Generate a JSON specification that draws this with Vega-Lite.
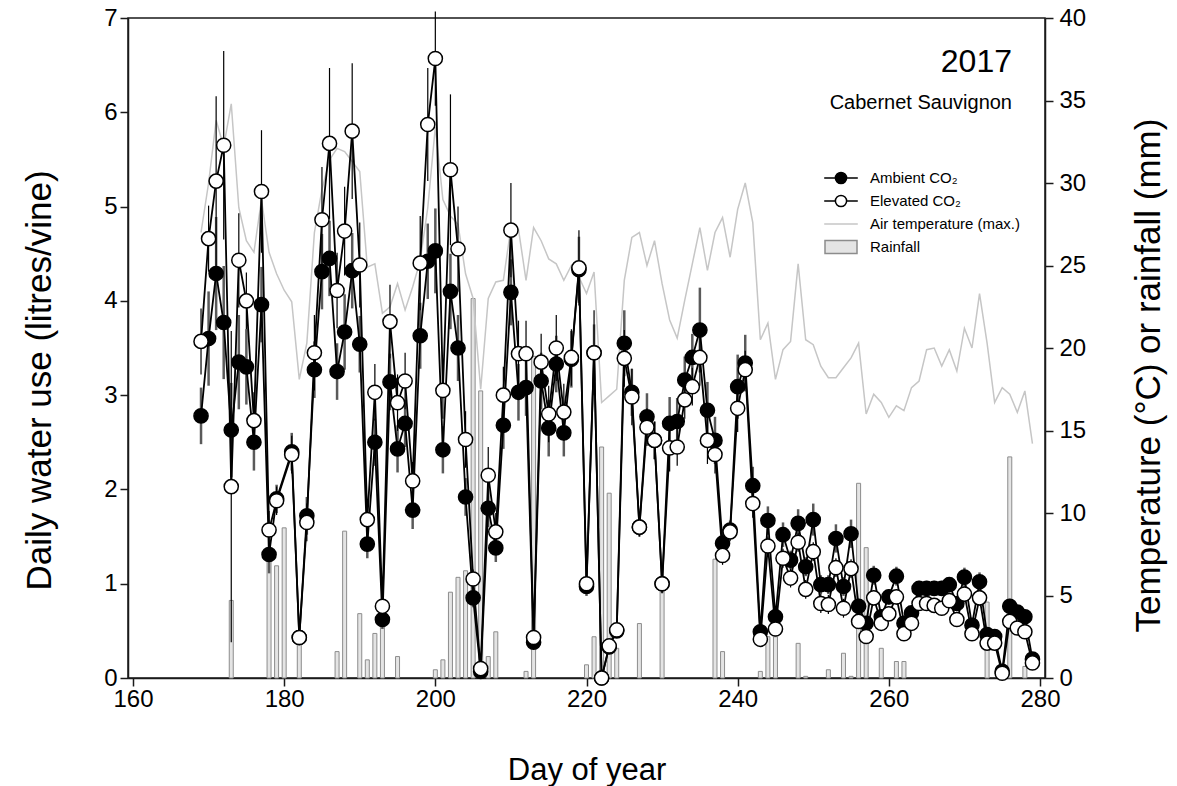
{
  "$schema": "https://vega.github.io/schema/vega-lite/v6.json",
  "width": 917,
  "height": 660,
  "autosize": {"type": "none"},
  "padding": {"left": 128, "top": 18, "right": 132, "bottom": 108},
  "background": "white",
  "title": {
    "text": "2017",
    "subtitle": "Cabernet Sauvignon",
    "anchor": "end",
    "frame": "group",
    "orient": "top",
    "font": "Liberation Sans",
    "subtitleFont": "Liberation Sans",
    "fontSize": 32,
    "subtitleFontSize": 20,
    "fontWeight": "normal",
    "color": "#000",
    "subtitleColor": "#000",
    "subtitlePadding": 14,
    "dx": -33,
    "offset": -108
  },
  "data": {
    "values": [
      {"d":169,"a":2.78,"e":3.57,"t":27.0,"as":0.3,"es":0.35},
      {"d":170,"a":3.6,"e":4.66,"t":30.0,"as":0.5,"es":0.35},
      {"d":171,"a":4.29,"e":5.27,"t":33.8,"as":0.6,"es":0.9},
      {"d":172,"a":3.77,"e":5.65,"t":32.2,"as":0.6,"es":1.0},
      {"d":173,"a":2.63,"e":2.03,"t":34.8,"r":4.7,"as":0.5,"es":1.65},
      {"d":174,"a":3.35,"e":4.43,"t":28.5,"as":0.5,"es":0.5},
      {"d":175,"a":3.3,"e":4.0,"t":26.5,"as":0.4,"es":0.3},
      {"d":176,"a":2.5,"e":2.73,"t":25.8,"as":0.3,"es":0.3},
      {"d":177,"a":3.96,"e":5.16,"t":29.0,"as":0.4,"es":0.65},
      {"d":178,"a":1.31,"e":1.57,"t":25.8,"r":7.1,"as":0.2,"es":0.2},
      {"d":179,"a":1.9,"e":1.88,"t":24.5,"r":6.8,"as":0.15,"es":0.15},
      {"d":180,"a":null,"e":null,"t":23.5,"r":9.1},
      {"d":181,"a":2.4,"e":2.37,"t":22.8,"as":0.2,"es":0.2},
      {"d":182,"a":0.43,"e":0.43,"t":18.1,"r":2.0,"as":0.05,"es":0.05},
      {"d":183,"a":1.72,"e":1.65,"t":20.3,"as":0.2,"es":0.2},
      {"d":184,"a":3.27,"e":3.45,"t":27.0,"as":0.3,"es":0.4},
      {"d":185,"a":4.31,"e":4.86,"t":29.6,"as":0.4,"es":0.56},
      {"d":186,"a":4.45,"e":5.67,"t":31.4,"as":0.4,"es":0.8},
      {"d":187,"a":3.25,"e":4.11,"t":32.1,"r":1.6,"as":0.3,"es":0.4},
      {"d":188,"a":3.67,"e":4.74,"t":31.9,"r":8.9,"as":0.4,"es":0.47},
      {"d":189,"a":4.32,"e":5.8,"t":31.3,"as":0.4,"es":0.72},
      {"d":190,"a":3.54,"e":4.38,"t":30.7,"r":3.9,"as":0.3,"es":0.45},
      {"d":191,"a":1.42,"e":1.68,"t":24.9,"r":1.1,"as":0.15,"es":0.2},
      {"d":192,"a":2.5,"e":3.03,"t":25.1,"r":2.7,"as":0.25,"es":0.3},
      {"d":193,"a":0.62,"e":0.76,"t":22.1,"r":3.8,"as":0.1,"es":0.1},
      {"d":194,"a":3.14,"e":3.78,"t":22.5,"as":0.3,"es":0.39},
      {"d":195,"a":2.43,"e":2.92,"t":23.9,"r":1.3,"as":0.25,"es":0.3},
      {"d":196,"a":2.7,"e":3.15,"t":22.3,"as":0.25,"es":0.3},
      {"d":197,"a":1.78,"e":2.09,"t":23.7,"as":0.2,"es":0.2},
      {"d":198,"a":3.63,"e":4.4,"t":25.3,"as":0.35,"es":0.5},
      {"d":199,"a":4.42,"e":5.87,"t":28.5,"as":0.4,"es":0.6},
      {"d":200,"a":4.53,"e":6.57,"t":33.4,"r":0.5,"as":0.45,"es":0.5},
      {"d":201,"a":2.42,"e":3.05,"t":29.0,"r":1.1,"as":0.25,"es":0.3},
      {"d":202,"a":4.1,"e":5.39,"t":28.0,"r":5.2,"as":0.4,"es":0.8},
      {"d":203,"a":3.5,"e":4.55,"t":27.5,"r":6.1,"as":0.35,"es":0.45},
      {"d":204,"a":1.92,"e":2.53,"t":24.5,"r":6.5,"as":0.2,"es":0.3},
      {"d":205,"a":0.85,"e":1.05,"t":23.0,"r":23.0,"as":0.1,"es":0.1},
      {"d":206,"a":0.07,"e":0.1,"t":17.5,"r":17.4,"as":0.03,"es":0.03},
      {"d":207,"a":1.8,"e":2.15,"t":23.0,"r":1.3,"as":0.2,"es":0.3},
      {"d":208,"a":1.38,"e":1.55,"t":24.0,"r":2.8,"as":0.15,"es":0.2},
      {"d":209,"a":2.68,"e":3.0,"t":24.1,"as":0.25,"es":0.3},
      {"d":210,"a":4.09,"e":4.75,"t":27.3,"as":0.35,"es":0.5},
      {"d":211,"a":3.03,"e":3.44,"t":27.2,"as":0.3,"es":0.35},
      {"d":212,"a":3.08,"e":3.44,"t":24.1,"r":0.4,"as":0.3,"es":0.35},
      {"d":213,"a":0.38,"e":0.43,"t":27.3,"r":19.5,"as":0.05,"es":0.05},
      {"d":214,"a":3.15,"e":3.35,"t":26.5,"as":0.3,"es":0.3},
      {"d":215,"a":2.65,"e":2.8,"t":25.4,"as":0.3,"es":0.3},
      {"d":216,"a":3.33,"e":3.5,"t":25.1,"as":0.3,"es":0.35},
      {"d":217,"a":2.6,"e":2.82,"t":24.1,"as":0.25,"es":0.3},
      {"d":218,"a":3.38,"e":3.4,"t":25.0,"as":0.3,"es":0.3},
      {"d":219,"a":4.33,"e":4.35,"t":24.3,"as":0.35,"es":0.4},
      {"d":220,"a":0.97,"e":1.0,"t":23.3,"r":0.8,"as":0.1,"es":0.1},
      {"d":221,"a":3.45,"e":3.45,"t":24.6,"r":2.5,"as":0.3,"es":0.45},
      {"d":222,"a":0.0,"e":0.0,"t":16.7,"r":14.0,"as":0,"es":0},
      {"d":223,"a":0.33,"e":0.34,"t":17.1,"r":11.2,"as":0.05,"es":0.05},
      {"d":224,"a":0.5,"e":0.51,"t":17.5,"r":1.8,"as":0.05,"es":0.05},
      {"d":225,"a":3.55,"e":3.39,"t":24.1,"as":0.35,"es":0.3},
      {"d":226,"a":3.03,"e":2.98,"t":26.7,"as":0.25,"es":0.3},
      {"d":227,"a":1.6,"e":1.6,"t":27.0,"r":3.3,"as":0.1,"es":0.1},
      {"d":228,"a":2.77,"e":2.66,"t":25.0,"as":0.25,"es":0.2},
      {"d":229,"a":2.52,"e":2.52,"t":26.5,"as":0.2,"es":0.2},
      {"d":230,"a":1.0,"e":1.0,"t":23.9,"r":5.5,"as":0.1,"es":0.1},
      {"d":231,"a":2.7,"e":2.44,"t":21.7,"as":0.28,"es":0.25},
      {"d":232,"a":2.72,"e":2.45,"t":20.6,"as":0.25,"es":0.2},
      {"d":233,"a":3.16,"e":2.95,"t":22.9,"as":0.25,"es":0.2},
      {"d":234,"a":3.4,"e":3.09,"t":25.1,"as":0.25,"es":0.2},
      {"d":235,"a":3.69,"e":3.4,"t":27.3,"as":0.45,"es":0.3},
      {"d":236,"a":2.84,"e":2.52,"t":24.7,"as":0.3,"es":0.25},
      {"d":237,"a":2.52,"e":2.37,"t":27.0,"r":7.2,"as":0.25,"es":0.2},
      {"d":238,"a":1.43,"e":1.3,"t":27.9,"r":1.6,"as":0.15,"es":0.1},
      {"d":239,"a":1.57,"e":1.55,"t":25.5,"as":0.1,"es":0.1},
      {"d":240,"a":3.09,"e":2.86,"t":28.4,"as":0.34,"es":0.25},
      {"d":241,"a":3.34,"e":3.27,"t":30.0,"as":0.3,"es":0.2},
      {"d":242,"a":2.04,"e":1.85,"t":27.6,"as":0.2,"es":0.15},
      {"d":243,"a":0.49,"e":0.41,"t":20.5,"r":0.4,"as":0.05,"es":0.05},
      {"d":244,"a":1.67,"e":1.4,"t":21.5,"r":2.5,"as":0.15,"es":0.1},
      {"d":245,"a":0.65,"e":0.52,"t":18.1,"r":2.5,"as":0.05,"es":0.05},
      {"d":246,"a":1.52,"e":1.27,"t":19.9,"as":0.13,"es":0.1},
      {"d":247,"a":1.25,"e":1.06,"t":20.4,"as":0.1,"es":0.1},
      {"d":248,"a":1.64,"e":1.44,"t":25.1,"r":2.1,"as":0.15,"es":0.1},
      {"d":249,"a":1.18,"e":0.94,"t":20.5,"r":0.1,"as":0.1,"es":0.1},
      {"d":250,"a":1.68,"e":1.34,"t":20.2,"as":0.17,"es":0.1},
      {"d":251,"a":0.99,"e":0.79,"t":18.9,"as":0.1,"es":0.1},
      {"d":252,"a":0.99,"e":0.78,"t":18.2,"r":0.5,"as":0.1,"es":0.1},
      {"d":253,"a":1.48,"e":1.17,"t":18.2,"as":0.15,"es":0.1},
      {"d":254,"a":0.97,"e":0.74,"t":18.8,"r":1.5,"as":0.1,"es":0.1},
      {"d":255,"a":1.53,"e":1.16,"t":19.4,"r":0.1,"as":0.15,"es":0.1},
      {"d":256,"a":0.76,"e":0.6,"t":20.3,"r":11.8,"as":0.08,"es":0.06},
      {"d":257,"a":0.58,"e":0.44,"t":16.0,"r":7.9,"as":0.06,"es":0.05},
      {"d":258,"a":1.09,"e":0.85,"t":17.2,"as":0.1,"es":0.08},
      {"d":259,"a":0.65,"e":0.58,"t":16.7,"r":1.8,"as":0.06,"es":0.05},
      {"d":260,"a":0.86,"e":0.68,"t":15.8,"as":0.08,"es":0.06},
      {"d":261,"a":1.08,"e":0.86,"t":16.5,"r":1.0,"as":0.1,"es":0.08},
      {"d":262,"a":0.58,"e":0.47,"t":16.2,"r":1.0,"as":0.06,"es":0.05},
      {"d":263,"a":0.69,"e":0.58,"t":17.6,"as":0.06,"es":0.05},
      {"d":264,"a":0.95,"e":0.79,"t":18.0,"as":0.08,"es":0.06},
      {"d":265,"a":0.95,"e":0.79,"t":19.9,"as":0.08,"es":0.06},
      {"d":266,"a":0.95,"e":0.77,"t":20.0,"as":0.08,"es":0.06},
      {"d":267,"a":0.95,"e":0.74,"t":18.9,"as":0.08,"es":0.06},
      {"d":268,"a":0.99,"e":0.82,"t":19.9,"as":0.08,"es":0.06},
      {"d":269,"a":0.79,"e":0.62,"t":18.6,"as":0.08,"es":0.06},
      {"d":270,"a":1.07,"e":0.89,"t":21.2,"as":0.1,"es":0.08},
      {"d":271,"a":0.56,"e":0.47,"t":20.0,"as":0.06,"es":0.05},
      {"d":272,"a":1.02,"e":0.85,"t":23.3,"as":0.1,"es":0.08},
      {"d":273,"a":0.46,"e":0.37,"t":20.3,"r":4.6,"as":0.05,"es":0.05},
      {"d":274,"a":0.44,"e":0.37,"t":16.7,"as":0.05,"es":0.05},
      {"d":275,"a":0.07,"e":0.05,"t":17.6,"as":0.02,"es":0.02},
      {"d":276,"a":0.76,"e":0.6,"t":17.2,"r":13.4,"as":0.08,"es":0.06},
      {"d":277,"a":0.7,"e":0.53,"t":16.1,"as":0.07,"es":0.05},
      {"d":278,"a":0.65,"e":0.49,"t":17.4,"r":0.7,"as":0.06,"es":0.05},
      {"d":279,"a":0.2,"e":0.16,"t":14.2,"as":0.03,"es":0.03}
    ]
  },
  "layer": [
    {
      "layer": [
        {
          "transform": [{"filter": "datum.r > 0"}],
          "mark": {"type": "bar", "size": 4, "fill": "#e4e4e4", "stroke": "#8c8c8c", "strokeWidth": 1},
          "encoding": {
            "x": {
              "field": "d", "type": "quantitative", "title": "Day of year",
              "scale": {"domain": [160, 280], "nice": false, "zero": false},
              "axis": {
                "values": [160, 180, 200, 220, 240, 260, 280],
                "format": "d",
                "labelFlush": false,
                "labelOverlap": false,
                "labelPadding": 1,
                "titlePadding": 44,
                "titleFontSize": 31
              }
            },
            "y": {
              "field": "r", "type": "quantitative", "title": "Temperature (°C) or rainfall (mm)",
              "scale": {"domain": [0, 40], "nice": false},
              "axis": {
                "orient": "right",
                "values": [0, 5, 10, 15, 20, 25, 30, 35, 40],
                "format": "d",
                "titleAngle": 270,
                "titleBaseline": "top",
                "titlePadding": 46,
                "titleFontSize": 35,
                "titleY": 357,
                "labelPadding": 6
              }
            }
          }
        },
        {
          "mark": {"type": "line", "stroke": "#c6c6c6", "strokeWidth": 1.5},
          "encoding": {
            "x": {"field": "d", "type": "quantitative", "title": "Day of year", "scale": {"domain": [160, 280], "nice": false, "zero": false}},
            "y": {"field": "t", "type": "quantitative", "title": "Temperature (°C) or rainfall (mm)", "scale": {"domain": [0, 40], "nice": false}}
          }
        }
      ]
    },
    {
      "layer": [
        {
          "transform": [{"filter": "false"}],
          "mark": {"type": "point", "filled": true, "opacity": 1},
          "encoding": {
            "fill": {
              "datum": "Ambient CO₂", "type": "nominal",
              "scale": {"domain": ["Ambient CO₂", "Elevated CO₂", "Air temperature (max.)", "Rainfall"], "range": ["#000000", "#ffffff", "#c6c6c6", "#e4e4e4"]},
              "legend": {"orient": "none", "legendX": 704, "legendY": 151, "title": null, "padding": 0, "labelFont": "Liberation Sans", "labelFontSize": 15, "labelColor": "#000", "labelOffset": 20, "symbolSize": 256, "rowPadding": 5, "symbolStrokeWidth": 1.5, "symbolOpacity": 1}
            },
            "stroke": {
              "datum": "Ambient CO₂", "type": "nominal",
              "scale": {"domain": ["Ambient CO₂", "Elevated CO₂", "Air temperature (max.)", "Rainfall"], "range": ["#000000", "#000000", "#c6c6c6", "#8c8c8c"]},
              "legend": {"orient": "none", "legendX": 704, "legendY": 151, "title": null, "padding": 0, "labelFont": "Liberation Sans", "labelFontSize": 15, "labelColor": "#000", "labelOffset": 20, "symbolSize": 256, "rowPadding": 5, "symbolStrokeWidth": 1.5, "symbolOpacity": 1}
            },
            "shape": {
              "datum": "Ambient CO₂", "type": "nominal",
              "scale": {"domain": ["Ambient CO₂", "Elevated CO₂", "Air temperature (max.)", "Rainfall"], "range": ["M-2.1,0L-0.7,0M0.7,0L2.1,0M-0.7,0A0.7,0.7,0,1,1,0.7,0A0.7,0.7,0,1,1,-0.7,0Z", "M-2.1,0L-0.7,0M0.7,0L2.1,0M-0.7,0A0.7,0.7,0,1,1,0.7,0A0.7,0.7,0,1,1,-0.7,0Z", "M-2.1,0L2.1,0", "M-2,-0.8L2,-0.8L2,0.8L-2,0.8Z"]},
              "legend": {"orient": "none", "legendX": 704, "legendY": 151, "title": null, "padding": 0, "labelFont": "Liberation Sans", "labelFontSize": 15, "labelColor": "#000", "labelOffset": 20, "symbolSize": 256, "rowPadding": 5, "symbolStrokeWidth": 1.5, "symbolOpacity": 1}
            }
          }
        },
        {
          "transform": [{"filter": "isValid(datum.a) && datum.as > 0"}],
          "mark": {"type": "errorbar", "color": "#5a5a5a", "thickness": 2.5, "ticks": false},
          "encoding": {
            "x": {"field": "d", "type": "quantitative", "title": "Day of year"},
            "y": {"field": "a", "type": "quantitative", "title": "Daily water use (litres/vine)", "scale": {"domain": [0, 7], "nice": false}},
            "yError": {"field": "as"}
          }
        },
        {
          "transform": [{"filter": "isValid(datum.a)"}],
          "mark": {"type": "line", "stroke": "#000", "strokeWidth": 1.8},
          "encoding": {
            "x": {"field": "d", "type": "quantitative", "title": "Day of year"},
            "y": {
              "field": "a", "type": "quantitative", "title": "Daily water use (litres/vine)",
              "scale": {"domain": [0, 7], "nice": false},
              "axis": {
                "orient": "left",
                "values": [0, 1, 2, 3, 4, 5, 6, 7],
                "format": "d",
                "titlePadding": 46,
                "titleFontSize": 35,
                "titleY": 362,
                "labelPadding": 3
              }
            }
          }
        },
        {
          "transform": [{"filter": "isValid(datum.a)"}],
          "mark": {"type": "point", "shape": "circle", "filled": true, "fill": "#000", "opacity": 1, "size": 200, "stroke": "#000", "strokeWidth": 1.5},
          "encoding": {
            "x": {"field": "d", "type": "quantitative", "title": "Day of year"},
            "y": {"field": "a", "type": "quantitative", "title": "Daily water use (litres/vine)"}
          }
        },
        {
          "transform": [{"filter": "isValid(datum.e) && datum.es > 0"}],
          "mark": {"type": "errorbar", "color": "#000", "thickness": 1.2, "ticks": false},
          "encoding": {
            "x": {"field": "d", "type": "quantitative", "title": "Day of year"},
            "y": {"field": "e", "type": "quantitative", "title": "Daily water use (litres/vine)"},
            "yError": {"field": "es"}
          }
        },
        {
          "transform": [{"filter": "isValid(datum.e)"}],
          "mark": {"type": "line", "stroke": "#000", "strokeWidth": 1.8},
          "encoding": {
            "x": {"field": "d", "type": "quantitative", "title": "Day of year"},
            "y": {"field": "e", "type": "quantitative", "title": "Daily water use (litres/vine)"}
          }
        },
        {
          "transform": [{"filter": "isValid(datum.e)"}],
          "mark": {"type": "point", "shape": "circle", "filled": true, "fill": "#fff", "opacity": 1, "size": 200, "stroke": "#000", "strokeWidth": 1.5},
          "encoding": {
            "x": {"field": "d", "type": "quantitative", "title": "Day of year"},
            "y": {"field": "e", "type": "quantitative", "title": "Daily water use (litres/vine)"}
          }
        }
      ]
    }
  ],
  "resolve": {"scale": {"y": "independent"}, "axis": {"y": "independent"}},
  "config": {
    "font": "Liberation Sans",
    "view": {"stroke": "#1a1a1a", "strokeWidth": 1.5},
    "axis": {
      "grid": false,
      "labelFont": "Liberation Sans",
      "titleFont": "Liberation Sans",
      "labelFontSize": 24,
      "titleFontSize": 31,
      "titleFontWeight": "normal",
      "labelColor": "#000",
      "titleColor": "#000",
      "domainColor": "#1a1a1a",
      "domainWidth": 1.5,
      "tickColor": "#1a1a1a",
      "tickWidth": 1.5,
      "tickSize": 8
    }
  }
}
